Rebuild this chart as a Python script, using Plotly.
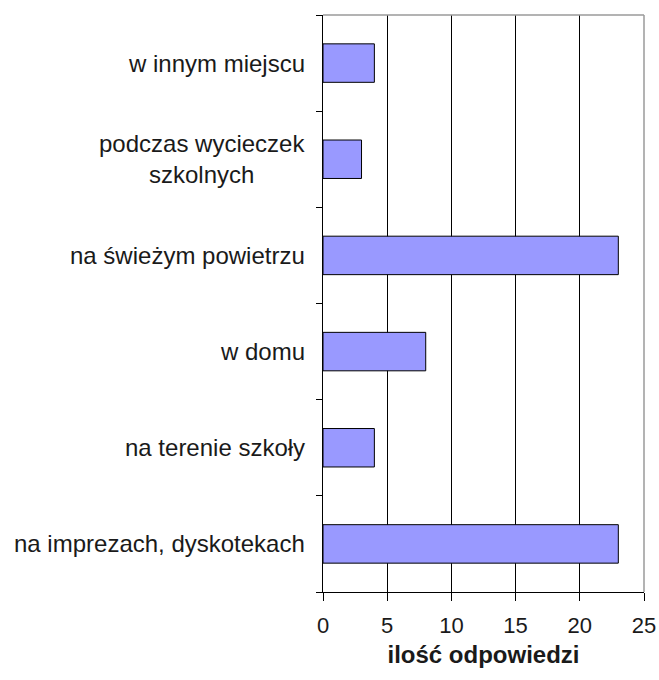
import plotly.graph_objects as go

categories = [
    "na imprezach, dyskotekach",
    "na terenie szkoły",
    "w domu",
    "na świeżym powietrzu",
    "podczas wycieczek<br>szkolnych",
    "w innym miejscu",
]
values = [23, 4, 8, 23, 3, 4]
x_ticks = [0, 5, 10, 15, 20, 25]
x_title = "ilość odpowiedzi"

FONT = "Liberation Sans, Arial, sans-serif"

fig = go.Figure()
fig.add_trace(go.Bar(
    y=categories,
    x=values,
    orientation="h",
    marker=dict(color="#9999FF", line=dict(color="black", width=1)),
    hoverinfo="x+y",
))

for cat in categories:
    fig.add_annotation(
        x=0, xref="paper", y=cat, yref="y",
        text=cat, showarrow=False,
        xanchor="right", yanchor="middle", align="center",
        xshift=-16,
        font=dict(family=FONT, size=24, color="#1a1a1a"),
    )

# gray top and right frame
fig.add_shape(type="line", xref="paper", yref="paper", x0=0, x1=1, y0=1, y1=1,
              line=dict(color="#9a9a9a", width=1.5), layer="above")
fig.add_shape(type="line", xref="paper", yref="paper", x0=1, x1=1, y0=0, y1=1,
              line=dict(color="#9a9a9a", width=1.5), layer="above")

fig.update_layout(
    width=659, height=680, autosize=False,
    margin=dict(l=323, r=15, t=15, b=88, autoexpand=False),
    paper_bgcolor="white", plot_bgcolor="white",
    showlegend=False,
    bargap=0.6,
    font=dict(family=FONT, color="#1a1a1a"),
    xaxis=dict(
        range=[0, 25], tickvals=x_ticks, ticktext=[str(v) for v in x_ticks],
        automargin=False,
        showgrid=True, gridcolor="black", gridwidth=1,
        showline=True, linecolor="black", linewidth=1,
        ticks="outside", ticklen=8, tickcolor="black",
        ticklabelstandoff=6,
        tickfont=dict(family=FONT, size=22, color="#1a1a1a"),
        zeroline=False,
        title=dict(text="<b>" + x_title + "</b>", standoff=8,
                   font=dict(family=FONT, size=24, color="#1a1a1a")),
    ),
    yaxis=dict(
        categoryorder="array", categoryarray=categories,
        automargin=False,
        showticklabels=False,
        tickson="boundaries", ticks="outside", ticklen=6, tickcolor="black",
        showline=True, linecolor="black", linewidth=1,
        showgrid=False, zeroline=False,
    ),
)

fig.write_html("out.html", config={"displayModeBar": False},
               post_script="document.body.style.margin='0';")
